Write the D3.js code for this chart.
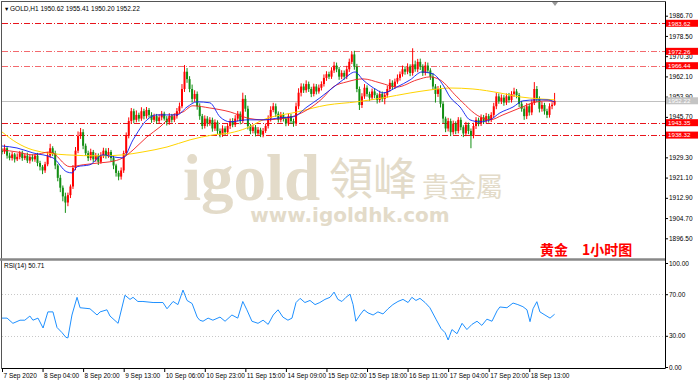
<!DOCTYPE html>
<html lang='en'>
<head>
<meta charset='UTF-8'>
<script src="https://cdnjs.cloudflare.com/ajax/libs/d3/7.8.5/d3.min.js"></script>
<style>
  body { margin: 0; background: #fff; }
  svg { display: block; font-family: 'Liberation Sans', 'DejaVu Sans', sans-serif; }
  .axis text { font-size: 6.5px; fill: #000; }
  .axis line { stroke: #000; }
  .axis path { display: none; }
</style>
<title>GOLD H1</title>
</head>
<body>
<svg id='chart'></svg>
<script>
'use strict'

// hourly closes, 7 Sep - 18 Sep 2020
const firstOpen = 1932
const closes = [
  1931.5, 1933, 1930, 1929, 1930.5, 1928.5, 1929.5, 1931, 1929, 1930,
  1928, 1929.5, 1928.5, 1930, 1927, 1925.5, 1924, 1926.5, 1930, 1933,
  1931, 1926, 1921, 1917, 1913.5, 1911, 1914, 1917.5, 1925, 1932,
  1938, 1939.5, 1934, 1931, 1929, 1931.5, 1928.5, 1930, 1927.5, 1930,
  1932, 1930, 1931.5, 1929, 1926, 1923, 1921.5, 1924, 1931, 1938,
  1944, 1948, 1944.5, 1946.5, 1945, 1948, 1946, 1948.5, 1946.5, 1944.5,
  1946, 1944, 1945.5, 1947, 1945, 1943.5, 1946, 1944.5, 1946, 1948,
  1950, 1957, 1964, 1961, 1957, 1953, 1955, 1950, 1946, 1942,
  1945, 1943, 1944.5, 1941, 1943.5, 1940, 1938.5, 1941, 1939.5, 1942,
  1944, 1942.5, 1945, 1947, 1944, 1953, 1949, 1942, 1940, 1941.5,
  1939, 1940.5, 1938.5, 1940, 1942, 1945, 1948.5, 1950, 1947, 1944.5,
  1946.5, 1945, 1943, 1946, 1944, 1943, 1950, 1955.5, 1958, 1956.5,
  1959, 1957, 1955, 1958, 1956, 1957.5, 1959, 1961.5, 1963, 1962,
  1964.5, 1966.5, 1965, 1962, 1963.5, 1962, 1965, 1968, 1971, 1966,
  1957, 1950.5, 1954, 1957.5, 1955, 1953.5, 1956, 1954.5, 1952.5, 1955,
  1953, 1954.5, 1957, 1959.5, 1958, 1960, 1961.5, 1963, 1965, 1964,
  1966, 1963.5, 1967, 1965, 1968, 1966, 1963.5, 1966.5, 1964.5, 1962,
  1958, 1955, 1957, 1951, 1945, 1941, 1944, 1939.5, 1943, 1940,
  1944.5, 1941.5, 1939, 1942.5, 1940, 1938, 1942, 1944.5, 1943, 1945.5,
  1944, 1946, 1944.5, 1946.5, 1950, 1954, 1952, 1953.5, 1951.5, 1954,
  1952.5, 1955, 1956, 1954.5, 1951, 1949, 1946, 1950, 1947.5, 1951.5,
  1957, 1953, 1949, 1950.5, 1948, 1946.5, 1950, 1950.62, 1952.22
]
// wick length above the body / below the body
const wickUp = [
  1, 1.5, 0.8, 1.2, 1, 0.6, 1.4, 0.9, 1, 0.7,
  1.2, 0.8, 1, 0.6, 1.1, 0.9, 0.7, 1, 1.5, 1.8,
  0.8, 1, 0.6, 1.2, 0.9, 1.5, 1, 0.8, 1.2, 1.5,
  1.8, 1.7, 1.2, 0.9, 1, 1.3, 0.8, 1.1, 0.9, 1.4,
  1.2, 1, 1.6, 0.8, 1, 0.7, 0.9, 1.2, 1, 1.4,
  1.5, 1.3, 1, 1.8, 0.9, 1.6, 1, 1.2, 0.8, 1.1,
  1, 0.9, 1.3, 1.1, 0.8, 1, 1.2, 0.9, 1.1, 1.3,
  1.5, 2, 2.7, 1.5, 1.2, 1.8, 1.5, 1, 1.2, 0.9,
  1.3, 1, 1.1, 0.9, 1.2, 0.8, 1, 1.3, 0.9, 1.1,
  1, 1.2, 1.4, 1.1, 0.9, 2.5, 1.5, 1.2, 0.8, 1,
  0.9, 1.1, 0.8, 1.2, 1, 1.3, 1.5, 1.4, 1.1, 0.9,
  1.2, 1, 0.8, 1.1, 0.9, 1, 1.5, 1.8, 1.3, 1.2,
  1.5, 1, 0.9, 1.2, 1, 1.3, 1.1, 1.4, 1.2, 1,
  1.3, 1.5, 1.2, 0.9, 1.1, 1, 1.4, 1.3, 1.2, 1.5,
  1.2, 1, 1.3, 1.5, 1, 0.9, 1.2, 1.1, 0.8, 1.3,
  1, 1.1, 1.3, 1.5, 1, 1.2, 1.4, 1.1, 1.5, 1.2,
  1.4, 1, 6.5, 1.5, 1.2, 1.3, 1, 1.5, 1.2, 0.9,
  1.5, 1, 1.2, 1.5, 1, 0.8, 1.3, 1, 1.2, 0.9,
  1.1, 1, 0.8, 1.2, 0.9, 1, 1.3, 1.1, 0.9, 1.2,
  1, 1.3, 0.9, 1.1, 1.4, 1.5, 1.2, 1.3, 1, 1.2,
  1.4, 1.1, 1.5, 1, 0.9, 1.2, 1, 1.3, 1.1, 1.2,
  2.8, 1.2, 1, 1.3, 0.9, 1, 1.2, 1, 3.19
]
const wickDown = [
  1, 0.8, 1.2, 0.9, 1, 1.3, 0.7, 1, 1.1, 0.8,
  1, 1.2, 0.9, 1, 1.3, 1.5, 1.5, 1, 0.8, 1,
  1.2, 1.5, 1.4, 1.8, 2, 4.2, 1.5, 1.2, 1, 0.9,
  1, 1.2, 1.4, 1, 1.2, 0.9, 1.1, 1, 1.3, 0.8,
  1, 1.2, 0.9, 1.3, 1.5, 1.5, 1.5, 1.2, 1, 0.8,
  1, 1.2, 1.4, 1, 1.2, 0.9, 1.3, 1, 1.1, 1.2,
  0.9, 1.1, 1, 1.2, 0.8, 1.3, 1, 1.1, 0.9, 1,
  1, 0.8, 1.2, 1.5, 1.3, 1.5, 1.2, 1.4, 1.5, 1.3,
  1, 1.2, 0.9, 1.3, 1, 1.2, 1.1, 0.9, 1.3, 1,
  1.2, 1, 0.9, 1.1, 1.3, 1, 1.2, 1.4, 1.3, 1,
  1.2, 0.9, 1, 1.1, 0.8, 1, 1.2, 0.9, 1.3, 1.1,
  1, 1.2, 1.1, 0.9, 1.2, 1.3, 1, 1.2, 1.5, 1.1,
  1, 1.2, 1.3, 1, 1.2, 0.9, 1.1, 1, 1.2, 1,
  0.9, 1, 1.2, 1.3, 1, 1.2, 1, 1.1, 0.9, 1.2,
  1.3, 2, 1.2, 1, 1.1, 1.3, 1, 1.2, 1.4, 1,
  1.2, 2.2, 1, 1.1, 1.2, 1, 0.9, 1.1, 1, 1.2,
  1, 1.3, 1.1, 1, 1.2, 1.3, 1.2, 1, 1.1, 1.3,
  1.4, 3.5, 1.2, 1.5, 1.8, 1.5, 1.2, 1.6, 1, 1.3,
  1, 1.2, 1.5, 1.1, 1.3, 5, 1, 1.2, 1.1, 1,
  1.2, 1, 1.1, 0.9, 1, 1.2, 1, 1.1, 1.3, 1,
  1.1, 1, 1.2, 1.3, 1.4, 1.2, 1.5, 1.2, 1.3, 1.1,
  1, 1.3, 1.5, 1.2, 1.4, 1.3, 1.1, 1.2, 0.42
]

// moving averages: [bar index, price]
const maFast = [[0,1933.9],[5.9,1933.1],[12.2,1931.1],[20.1,1929.1],[25.6,1923.4],[27.6,1923],[29.6,1925.5],[34.7,1926.3],[39.8,1930.3],[43.8,1929.5],[47.7,1929.1],[51.7,1936.4],[57.2,1944.5],[61.1,1946.5],[69,1946.5],[73,1949.7],[76.9,1951.8],[82,1951.4],[86,1945.7],[90,1943.7],[96.6,1944.5],[103,1944.5],[109.7,1945.3],[114.8,1945.7],[120.3,1949.7],[125.4,1953.4],[129.4,1956.6],[134.5,1960.7],[139.3,1963.9],[142.4,1960.7],[147.9,1956.6],[150.3,1955.4],[155.8,1957.8],[161,1960.7],[165.7,1963.9],[170,1963.1],[174,1958.6],[176.7,1953.8],[180.7,1949.7],[184.6,1944.5],[188.6,1943.7],[192.5,1944.5],[196.4,1947.3],[201.6,1949.7],[205.5,1952.2],[211,1952.6],[215,1952.6],[218,1951.8]]
const maMid = [[0,1932.3],[5.9,1931.5],[12.2,1930.3],[18.9,1931.5],[26.8,1925.5],[32,1926.3],[38.7,1927.1],[42.6,1927.5],[47.7,1929.1],[51.7,1932.3],[57.2,1937.6],[62.3,1941.6],[67.5,1946.5],[71.4,1947.7],[75.3,1950.2],[82,1949.3],[90,1947.7],[96.6,1945.3],[103,1944.5],[112.4,1945.3],[120.3,1948.5],[126.6,1953.4],[130.6,1957.8],[136.1,1959.9],[142.4,1961.1],[149.1,1959.5],[155.8,1957.8],[163.7,1960.7],[168.8,1961.9],[172.8,1960.7],[179.5,1953.8],[188.6,1945.7],[192.5,1944.5],[197.6,1946.5],[204.3,1949.3],[209.5,1951.4],[215,1952.2],[218,1951.8]]
const maSlow = [[0,1939.6],[5.9,1935.2],[12.2,1932.3],[25.6,1930.3],[38.7,1929.9],[47.7,1930.3],[55.6,1931.5],[65.1,1933.5],[74.2,1936.4],[83.2,1938.4],[90,1939.2],[96.6,1941.2],[103,1944.5],[116.4,1947.7],[128.2,1950.5],[140,1951.8],[150.3,1953.4],[161,1955.4],[168.8,1956.6],[176.7,1957.4],[185.8,1957],[196.4,1955.4],[204.3,1953.8],[212.2,1953],[218,1952.6]]

// RSI(14): [bar index, value]
const rsi = [[0,47],[2,47],[4.3,42],[7.1,45],[9,45],[11,49],[12.2,45],[14.2,47],[16.2,37.5],[18.1,53],[20.1,53],[21.7,38],[23.7,33],[25.2,28.5],[26,28],[27.6,50],[29.6,67],[30.8,57],[34.7,56],[37.5,50],[38.7,53],[41.4,55],[42.6,49],[45.8,42],[48.5,69],[50.5,65],[51.7,67],[53.6,63],[55.6,63],[59.6,62],[63.5,62],[65.1,56],[67.5,63],[69.4,60],[71.4,74],[73,64],[75,61],[77,48],[78,45],[79.3,44],[81.3,47],[83.2,45],[86,48],[88,44],[90.7,50],[93,47],[95,63],[96.6,55],[98.6,44],[101,42],[103,45],[105,41],[107,50],[108.9,55],[110.8,48],[112.8,45],[114.4,47],[116,62],[117.6,66],[119.5,62],[121.5,64],[123.5,60],[125.4,62],[127.4,65],[129.4,67],[131,72],[132.5,65],[134.1,63],[135.7,67],[137.3,70],[138.5,60],[139.6,44],[141.2,50],[142.8,55],[144.4,52],[146.4,50],[148.3,53],[150.3,51],[152.3,56],[154.2,60],[156.2,63],[158.2,65],[160.2,62],[161.7,67],[163.3,64],[164.9,66],[166.9,62],[168.8,57],[171.2,46],[173.2,37],[174.8,33],[176,26],[177.5,36],[179.5,32],[181.5,42],[183.4,36],[185.4,41],[187.4,44],[189.3,40],[191.3,46],[193.3,44],[195.3,54],[196.4,57.7],[199.2,57],[201.6,61.5],[203.5,60],[205.5,58],[207.1,55],[208.3,43.6],[209.5,56],[211,62.8],[212.2,53],[214.2,50],[216.2,47],[217.4,49.5],[218,50.71]]

const timeLabels = ['7 Sep 2020', '8 Sep 04:00', '8 Sep 20:00', '9 Sep 13:00', '10 Sep 06:00', '10 Sep 23:00',
  '11 Sep 15:00', '14 Sep 09:00', '15 Sep 02:00', '15 Sep 18:00', '16 Sep 11:00', '17 Sep 04:00',
  '17 Sep 20:00', '18 Sep 13:00']
const priceTicks = [1986.7, 1978.5, 1970.3, 1962.1, 1953.9, 1945.7, 1937.5, 1929.3, 1921.1, 1912.9, 1904.7, 1896.5]
const hiddenTick = 1937.5   // sits under the 1938.32 tag
const rsiTicks = [100, 70, 30, 0]
const rsiLevels = [70, 30]
const strongLevels = [1983.62, 1943.35, 1938.32]
const softLevels = [1972.26, 1966.44]
const lastPrice = 1952.22
const header = '\u25BE GOLD,H1  1950.62 1955.41 1950.20 1952.22'

const W = 700, H = 381
const padL = 2, padR = 665, padT = 2, mainBottom = 258, rsiBottom = 368

const svg = d3.select('#chart').attr('width', W).attr('height', H)

const x = d3.scaleLinear([0, 218], [2, 554.6])
const y = d3.scaleLinear([1986.7, 1896.5], [15.7, 238.3])
const yr = d3.scaleLinear([0, 100], [367, 263])

svg.append('defs').append('clipPath').attr('id', 'mainClip')
  .append('rect').attr('x', padL).attr('y', padT).attr('width', padR - padL).attr('height', mainBottom - padT)

// watermark
const wm = svg.append('g').attr('fill', '#e3dbc9')
wm.append('text').attr('x', 183).attr('y', 200)
  .style('font', 'bold 65px "Liberation Serif", serif').text('igold')
wm.append('text').attr('x', 329).attr('y', 195)
  .style('font', '44px "Noto Sans CJK TC", sans-serif').text('領峰')
wm.append('text').attr('x', 422).attr('y', 197)
  .style('font', '27px "Noto Sans CJK TC", sans-serif').text('貴金屬')
wm.append('text').attr('x', 350).attr('y', 222).attr('text-anchor', 'middle')
  .style('font', 'bold 20px "DejaVu Sans", sans-serif').text('www.igoldhk.com')

// frame
svg.append('rect').attr('x', padL - 0.5).attr('y', padT - 0.5)
  .attr('width', padR - padL + 1).attr('height', rsiBottom - padT + 1)
  .attr('fill', 'none').attr('stroke', '#555')
svg.append('line').attr('x1', 0).attr('x2', padR).attr('y1', 259.5).attr('y2', 259.5)
  .attr('stroke', '#888').attr('stroke-width', 2.5)

const main = svg.append('g').attr('clip-path', 'url(#mainClip)')

// price line
main.append('line').attr('x1', padL).attr('x2', padR)
  .attr('y1', Math.round(y(lastPrice)) + 0.5).attr('y2', Math.round(y(lastPrice)) + 0.5)
  .attr('stroke', '#c0c0c0')

// level lines
main.selectAll('.lvl').data(strongLevels.concat(softLevels)).enter().append('line')
  .attr('x1', padL).attr('x2', padR)
  .attr('y1', d => Math.round(y(d)) + 0.5).attr('y2', d => Math.round(y(d)) + 0.5)
  .attr('stroke', d => strongLevels.includes(d) ? '#e8141c' : '#f36a6e')
  .attr('stroke-dasharray', '6,2,1,2')

// candles
const candles = closes.map((c, i) => {
  const o = i === 0 ? firstOpen : closes[i - 1]
  return { i, o, c, h: Math.max(o, c) + wickUp[i], l: Math.min(o, c) - wickDown[i] }
})
const col = d => d.c >= d.o ? '#ff0000' : '#138f13'
const cg = main.append('g')
cg.selectAll('.wick').data(candles).enter().append('line')
  .attr('x1', d => x(d.i)).attr('x2', d => x(d.i))
  .attr('y1', d => y(d.h)).attr('y2', d => y(d.l))
  .attr('stroke', col).attr('stroke-width', 1)
cg.selectAll('.body').data(candles).enter().append('rect')
  .attr('x', d => x(d.i) - 1).attr('width', 2)
  .attr('y', d => y(Math.max(d.o, d.c)))
  .attr('height', d => Math.max(1, Math.abs(y(d.o) - y(d.c))))
  .attr('fill', col)

// moving averages
const maLine = d3.line().x(d => x(d[0])).y(d => y(d[1])).curve(d3.curveMonotoneX)
main.append('path').attr('d', maLine(maSlow)).attr('fill', 'none').attr('stroke', '#ffd400').attr('stroke-width', 1)
main.append('path').attr('d', maLine(maMid)).attr('fill', 'none').attr('stroke', '#f21d1d').attr('stroke-width', 0.9)
main.append('path').attr('d', maLine(maFast)).attr('fill', 'none').attr('stroke', '#0a1cf0').attr('stroke-width', 0.9)

// shift marker
svg.append('path').attr('d', 'M552,2 L558,2 L555,6 Z').attr('fill', '#999')

// header texts
svg.append('text').attr('x', 5).attr('y', 11).style('font-size', '6.5px').text(header)
svg.append('text').attr('x', 4).attr('y', 268).style('font-size', '6.5px').text('RSI(14) 50.71')

// right price axis
svg.append('line').attr('x1', padR + 0.5).attr('x2', padR + 0.5).attr('y1', padT).attr('y2', rsiBottom)
  .attr('stroke', '#000')
svg.append('g').attr('class', 'axis').attr('transform', `translate(${padR},0)`)
  .call(d3.axisRight(y).tickValues(priceTicks).tickSize(3).tickPadding(1)
    .tickFormat(d => d === hiddenTick ? '' : d3.format('.2f')(d)))

// price tags
const tags = svg.append('g')
const tag = (v, fill) => {
  tags.append('rect').attr('x', 666).attr('y', y(v) - 3.5).attr('width', 32).attr('height', 7).attr('fill', fill)
  tags.append('text').attr('x', 668).attr('y', y(v) + 2.2).attr('fill', '#fff')
    .style('font-size', '6.2px').text(v.toFixed(2))
}
strongLevels.concat(softLevels).forEach(v => tag(v, '#ff0000'))
tag(lastPrice, '#c4c4c4')

// RSI panel
const rg = svg.append('g')
rg.selectAll('.rl').data(rsiLevels).enter().append('line')
  .attr('x1', padL).attr('x2', padR)
  .attr('y1', d => Math.round(yr(d)) + 0.5).attr('y2', d => Math.round(yr(d)) + 0.5)
  .attr('stroke', '#c8c8c8').attr('stroke-dasharray', '1,2')
rg.append('path')
  .attr('d', d3.line().x(d => x(d[0])).y(d => yr(d[1]))(rsi))
  .attr('fill', 'none').attr('stroke', '#1e90ff').attr('stroke-width', 1)
svg.append('g').attr('class', 'axis').attr('transform', `translate(${padR},0)`)
  .call(d3.axisRight(yr).tickValues(rsiTicks).tickSize(3).tickPadding(1).tickFormat(d3.format('.2f')))

// time axis
svg.append('line').attr('x1', padL).attr('x2', padR).attr('y1', rsiBottom + 0.5).attr('y2', rsiBottom + 0.5)
  .attr('stroke', '#000')
const xa = svg.append('g').attr('class', 'axis').attr('transform', `translate(0,${rsiBottom})`)
  .call(d3.axisBottom(x).tickValues(timeLabels.map((_, k) => k * 16)).tickSize(4)
    .tickFormat((d, k) => timeLabels[k]))
xa.selectAll('text').attr('text-anchor', 'start').attr('dx', 1).attr('y', 5)

// title stamp
svg.append('text').attr('x', 540).attr('y', 255).attr('fill', '#ff0000')
  .style('font', 'bold 14px "Noto Sans CJK SC", sans-serif')
  .text('黄金').append('tspan').attr('x', 582).text('1小时图')
</script>
</body>
</html>
